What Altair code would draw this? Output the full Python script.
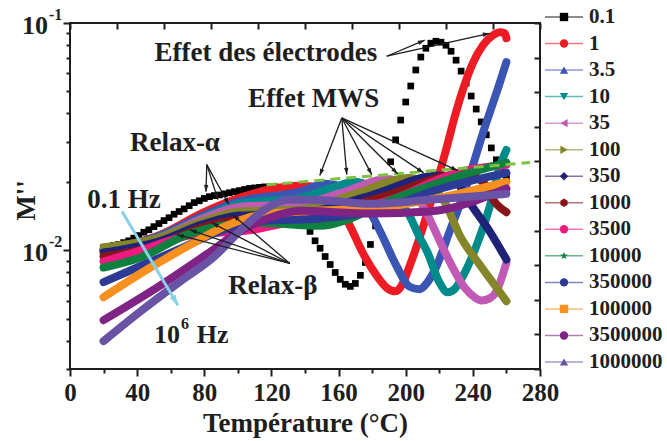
import math
import altair as alt
import pandas as pd

# ---- series definitions -------------------------------------------------
SERIES = ["0.1", "1", "3.5", "10", "35", "100", "350", "1000", "3500",
          "10000", "350000", "100000", "3500000", "1000000"]
COLORS = ["#000000", "#ED1C24", "#3A55B4", "#008B8B", "#C05AB5", "#85852A",
          "#1F2378", "#8A1519", "#EE1A7F", "#0F8040", "#2D3A96", "#F7901E",
          "#7F2385", "#6A52A5"]
HEXAGON = "M0,-1L0.87,-0.5L0.87,0.5L0,1L-0.87,0.5L-0.87,-0.5Z"
STAR = ("M0,-1L0.235,-0.324L0.951,-0.309L0.38,0.124L0.588,0.809L0,0.4"
        "L-0.588,0.809L-0.38,0.124L-0.951,-0.309L-0.235,-0.324Z")
SHAPES = ["square", "circle", "triangle-up", "triangle-down", "triangle-left",
          "triangle-right", "diamond", HEXAGON, "circle", STAR, "circle",
          "square", "circle", "triangle-up"]

# 0.1 Hz (drawn with square markers)
T_0_1 = [20, 23, 26, 29, 32, 35, 38, 41, 44, 47, 50, 53, 56, 59, 62, 65, 68,
         71, 74, 77, 80, 83, 86, 89, 92, 95, 98, 101, 104, 107, 110, 113, 116,
         119, 122, 125, 128, 131, 134, 137, 140, 143, 146, 149, 152, 155, 158,
         161, 164, 167, 170, 173, 176, 179, 182, 185, 188, 191, 194, 197, 200,
         203, 206, 209, 212, 215, 218, 221, 224, 227, 230, 233, 236, 239, 242,
         245, 248, 251, 254, 257, 260]
M_0_1 = [0.0103, 0.0104, 0.0105, 0.0106, 0.0108, 0.0110, 0.0113, 0.0116,
         0.0120, 0.0123, 0.0127, 0.0131, 0.0135, 0.0139, 0.0144, 0.0148,
         0.0152, 0.0157, 0.0162, 0.0165, 0.0169, 0.0172, 0.0174, 0.0175,
         0.0177, 0.0179, 0.0181, 0.0183, 0.0185, 0.0187, 0.0188, 0.0189,
         0.0190, 0.0190, 0.0190, 0.0188, 0.0181, 0.0170, 0.0157, 0.0145,
         0.0132, 0.0121, 0.0110, 0.0102, 0.00938, 0.00865, 0.00798, 0.00744,
         0.00708, 0.00693, 0.00714, 0.00775, 0.00883, 0.0106, 0.0128, 0.0159,
         0.0198, 0.0245, 0.0306, 0.0374, 0.0449, 0.0528, 0.0621, 0.0708,
         0.0774, 0.0815, 0.0831, 0.0823, 0.0798, 0.0751, 0.0686, 0.0614,
         0.0544, 0.0477, 0.0418, 0.0367, 0.0322, 0.0282, 0.0250, 0.0226,
         0.0209]

T_1 = [20, 54, 79, 101, 119, 137, 149, 158, 167, 174, 183, 189, 194, 198,
       202, 213, 224, 229, 234, 240, 246, 252, 256, 259, 260]
M_1 = [0.0100, 0.0117, 0.0146, 0.0170, 0.0185, 0.0192, 0.0188, 0.0167,
       0.0127, 0.00987, 0.00767, 0.00680, 0.00659, 0.00708, 0.00839, 0.0146,
       0.0276, 0.0382, 0.0507, 0.0666, 0.0798, 0.0883, 0.0910, 0.0901, 0.0857]

T_3_5 = [20, 54, 79, 101, 137, 152, 165, 172, 179, 185, 195, 202, 208, 213,
         218, 226, 236, 246, 256, 260]
M_3_5 = [0.0100, 0.0116, 0.0142, 0.0164, 0.0181, 0.0196, 0.0185, 0.0167,
         0.0146, 0.0120, 0.00839, 0.00693, 0.00673, 0.00723, 0.00839, 0.0120,
         0.0190, 0.0328, 0.0544, 0.0673]

T_10 = [20, 54, 79, 101, 137, 155, 170, 185, 194, 202, 208, 213, 220, 225,
        229, 234, 242, 250, 256, 260]
M_10 = [0.0100, 0.0115, 0.0139, 0.0160, 0.0170, 0.0187, 0.0200, 0.0181,
        0.0167, 0.0143, 0.0115, 0.00977, 0.00723, 0.00653, 0.00673, 0.00767,
        0.0104, 0.0155, 0.0233, 0.0276]

T_35 = [20, 54, 79, 101, 137, 164, 188, 202, 213, 220, 228, 235, 241, 245,
        250, 254, 260]
M_35 = [0.0100, 0.0114, 0.0138, 0.0155, 0.0160, 0.0181, 0.0206, 0.0188,
        0.0143, 0.0111, 0.00839, 0.00686, 0.00621, 0.00601, 0.00614, 0.00659,
        0.00883]

T_100 = [20, 54, 79, 101, 137, 170, 202, 214, 224, 232, 244, 254, 260]
M_100 = [0.0103, 0.0114, 0.0134, 0.0148, 0.0151, 0.0177, 0.0208, 0.0194,
         0.0159, 0.0117, 0.00865, 0.00686, 0.00596]

T_350 = [20, 54, 79, 101, 137, 179, 220, 229, 238, 250, 260]
M_350 = [0.00977, 0.0110, 0.0130, 0.0142, 0.0145, 0.0174, 0.0213, 0.0204,
         0.0162, 0.0121, 0.00910]

T_1000 = [20, 54, 79, 101, 137, 184, 235, 247, 252, 260]
M_1000 = [0.00938, 0.0106, 0.0126, 0.0136, 0.0139, 0.0170, 0.0217, 0.0196,
          0.0167, 0.0147]

T_3500 = [20, 40, 71, 109, 137, 198, 219, 238, 260]
M_3500 = [0.00891, 0.00987, 0.0116, 0.0123, 0.0136, 0.0174, 0.0204, 0.0226,
          0.0238]

T_10000 = [20, 42, 71, 111, 149, 165, 185, 208, 228, 260]
M_10000 = [0.00839, 0.00929, 0.0118, 0.0132, 0.0128, 0.0136, 0.0159, 0.0185,
           0.0208, 0.0243]

T_350000 = [20, 40, 65, 89, 113, 149, 185, 219, 260]
M_350000 = [0.00723, 0.00839, 0.0101, 0.0121, 0.0134, 0.0138, 0.0151, 0.0185,
            0.0219]

T_100000 = [20, 43, 70, 91, 113, 137, 185, 220, 260]
M_100000 = [0.00621, 0.00798, 0.0104, 0.0126, 0.0143, 0.0148, 0.0154, 0.0170,
            0.0200]

T_3500000 = [20, 52, 82, 101, 119, 137, 179, 214, 260]
M_3500000 = [0.00492, 0.00686, 0.00966, 0.0121, 0.0139, 0.0149, 0.0145,
             0.0148, 0.0187]

T_1000000 = [20, 42, 65, 86, 101, 116, 131, 155, 179, 216, 260]
M_1000000 = [0.00398, 0.00538, 0.00723, 0.00938, 0.0121, 0.0151, 0.0167,
             0.0165, 0.0160, 0.0167, 0.0177]

CURVES = [(T_1, M_1), (T_3_5, M_3_5), (T_10, M_10), (T_35, M_35),
          (T_100, M_100), (T_350, M_350), (T_1000, M_1000),
          (T_3500, M_3500), (T_10000, M_10000), (T_350000, M_350000),
          (T_100000, M_100000), (T_3500000, M_3500000),
          (T_1000000, M_1000000)]

# MWS envelope (dashed)
T_MWS = [117, 274]
M_MWS = [0.0194, 0.0243]

# ---- annotations ---------------------------------------------------------
TEXT_LABELS = ["Effet des électrodes", "Effet MWS", "Relax-α", "Relax-β", "0.1 Hz"]
TEXT_T = [116.7, 145.2, 62.5, 120.8, 32.1]
TEXT_M = [0.0737, 0.0463, 0.0297, 0.00693, 0.0167]

# arrows: start (T, M'') -> tip (T, M'')
ARROW_T0 = [188.7, 188.7,
            161.9, 161.9, 161.9, 161.9, 161.9, 161.9,
            81.5, 81.5, 81.5,
            131, 131, 131, 131]
ARROW_M0 = [0.0714, 0.0714,
            0.0382, 0.0382, 0.0382, 0.0382, 0.0382, 0.0382,
            0.0238, 0.0238, 0.0238,
            0.00874, 0.00874, 0.00874, 0.00874]
ARROW_T1 = [211.3, 250,
            148.8, 164.9, 179.8, 195.2, 210.7, 231,
            81, 88.1, 94.6,
            63.7, 71.4, 84.5, 97]
ARROW_M1 = [0.0840, 0.0901,
            0.0213, 0.0215, 0.0215, 0.0217, 0.0219, 0.0224,
            0.0181, 0.0167, 0.0159,
            0.0117, 0.0123, 0.0132, 0.0143]

FREQ_ARROW_T = [31, 64.3]
FREQ_ARROW_M = [0.0148, 0.00572]

Y_TICKS = [0.003, 0.004, 0.005, 0.006, 0.007, 0.008, 0.009,
           0.01, 0.02, 0.03, 0.04, 0.05, 0.06, 0.07, 0.08, 0.09, 0.1]
Y_MAJOR = [0.1, 0.01]
Y_MAJOR_EXP = ["-1", "-2"]
X_TICKS = [0, 20, 40, 60, 80, 100, 120, 140, 160, 180, 200, 220, 240, 260, 280]
X_TOP_TICKS = [0, 28, 56, 84, 112, 140, 168, 196, 224, 252, 280]

# ---- geometry ------------------------------------------------------------
W, H = 470, 346
Y_LO, Y_HI = 0.003, 0.1
FONT = "Liberation Serif"
INK = "#1E1E1E"

XS = alt.Scale(domain=[0, 280], nice=False, zero=False)
YS = alt.Scale(type="log", domain=[Y_LO, Y_HI], nice=False)


def to_px(t, m):
    x = t / 280 * W
    y = H * (math.log10(Y_HI) - math.log10(m)) / (math.log10(Y_HI) - math.log10(Y_LO))
    return x, y


def head_angle(t0, m0, t1, m1):
    x0, y0 = to_px(t0, m0)
    x1, y1 = to_px(t1, m1)
    return math.degrees(math.atan2(x1 - x0, -(y1 - y0))) % 360


ARROW_HEAD = "M0,0L0.55,1.7L-0.55,1.7Z"


def X(field, **kw):
    return alt.X(field, type="quantitative", scale=XS, axis=None, **kw)


def Y(field, **kw):
    return alt.Y(field, type="quantitative", scale=YS, axis=None, **kw)


layers = []

# axes (bottom / left)
axes_df = pd.DataFrame({"T": [0, 280], "M": [Y_LO, Y_HI]})
layers.append(
    alt.Chart(axes_df).mark_point(opacity=0).encode(
        x=alt.X("T:Q", scale=XS, axis=alt.Axis(
            orient="bottom", values=X_TICKS, domain=False, grid=False,
            labelExpr="datum.value % 40 == 0 ? datum.label : ''",
            tickSize={"condition": {"test": "datum.value % 40 == 0", "value": 7}, "value": 4},
            tickWidth=2, tickColor=INK, labelFont=FONT, labelFontSize=25,
            labelFontWeight="bold", labelColor=INK, labelPadding=4,
            labelFlush=False, labelOverlap=False,
            title="Température (°C)", titleFont=FONT, titleFontSize=27,
            titleFontWeight="bold", titleColor=INK, titleX=235, titleY=54,
            titleBaseline="middle", titleAlign="center")),
        y=alt.Y("M:Q", scale=YS, axis=alt.Axis(
            orient="left", values=Y_TICKS, domain=False, grid=False, labels=False,
            tickSize={"condition": {"test": "datum.value == 0.01 || datum.value == 0.1", "value": 7}, "value": 4},
            tickWidth=2, tickColor=INK,
            title="M''", titleFont=FONT, titleFontSize=27, titleFontWeight="bold",
            titleColor=INK, titleX=-44, titleY=177, titleAngle=270,
            titleAlign="center", titleBaseline="middle")),
    )
)

# axes (top / right, inward ticks)
mirror_df = pd.DataFrame({"T": [0, 280], "r": [0, 10]})
layers.append(
    alt.Chart(mirror_df).mark_point(opacity=0).encode(
        x=alt.X("T:Q", scale=XS, axis=alt.Axis(
            orient="top", values=X_TOP_TICKS, domain=False, grid=False,
            labels=False, tickSize=6, tickWidth=2, tickColor=INK, offset=-6,
            title=None)),
        y=alt.Y("r:Q", scale=alt.Scale(domain=[0, 10], nice=False, zero=False),
                axis=alt.Axis(orient="right", values=list(range(0, 11)), domain=False,
                              grid=False, labels=False, tickSize=6, tickWidth=2,
                              tickColor=INK, offset=-6, title=None)),
    )
)

# y tick labels as 10^n
ylab_df = pd.DataFrame({"M": Y_MAJOR, "exp": Y_MAJOR_EXP})
layers.append(
    alt.Chart(ylab_df).mark_text(text="10", align="right", baseline="middle", dy=3,
                                 font=FONT, fontSize=26, fontWeight="bold", color=INK)
    .encode(x=alt.value(-22), y=Y("M"))
)
layers.append(
    alt.Chart(ylab_df).mark_text(align="left", baseline="middle", dy=-8,
                                 font=FONT, fontSize=16, fontWeight="bold", color=INK)
    .encode(x=alt.value(-21), y=Y("M"), text="exp:N")
)

# 0.1 Hz markers
black_df = pd.DataFrame({"T": T_0_1, "M": M_0_1})
layers.append(
    alt.Chart(black_df).mark_square(size=45, color="#000000", opacity=1)
    .encode(x=X("T"), y=Y("M"))
)

# thick curves, drawn from lowest to highest frequency
for name, color, (ts, ms) in zip(SERIES[1:], COLORS[1:], CURVES):
    df = pd.DataFrame({"T": ts, "M": ms})
    layers.append(
        alt.Chart(df).mark_line(strokeWidth=8, interpolate="monotone",
                                strokeCap="round", strokeJoin="round", color=color)
        .encode(x=X("T"), y=Y("M"), order="T:Q")
    )

# MWS dashed envelope
mws_df = pd.DataFrame({"T": T_MWS, "M": M_MWS})
layers.append(
    alt.Chart(mws_df).mark_line(color="#7DC242", strokeWidth=3, strokeDash=[10, 6])
    .encode(x=X("T"), y=Y("M"))
)

# black annotation arrows
arrow_df = pd.DataFrame({"t0": ARROW_T0, "m0": ARROW_M0, "t1": ARROW_T1, "m1": ARROW_M1})
arrow_df["angle"] = [head_angle(a, b, c, d) for a, b, c, d in
                     zip(ARROW_T0, ARROW_M0, ARROW_T1, ARROW_M1)]
layers.append(
    alt.Chart(arrow_df).mark_rule(color=INK, strokeWidth=1.3)
    .encode(x=X("t0"), y=Y("m0"), x2="t1", y2="m1")
)
layers.append(
    alt.Chart(arrow_df).mark_point(shape=ARROW_HEAD, filled=True, size=64,
                                   color=INK, opacity=1)
    .encode(x=X("t1"), y=Y("m1"), angle=alt.Angle("angle:Q", scale=None))
)

# frequency direction arrow
freq_df = pd.DataFrame({"t0": [FREQ_ARROW_T[0]], "m0": [FREQ_ARROW_M[0]],
                        "t1": [FREQ_ARROW_T[1]], "m1": [FREQ_ARROW_M[1]]})
freq_df["angle"] = [head_angle(FREQ_ARROW_T[0], FREQ_ARROW_M[0],
                               FREQ_ARROW_T[1], FREQ_ARROW_M[1])]
layers.append(
    alt.Chart(freq_df).mark_rule(color="#86D0E8", strokeWidth=3)
    .encode(x=X("t0"), y=Y("m0"), x2="t1", y2="m1")
)
layers.append(
    alt.Chart(freq_df).mark_point(shape=ARROW_HEAD, filled=True, size=150,
                                  color="#86D0E8", opacity=1)
    .encode(x=X("t1"), y=Y("m1"), angle=alt.Angle("angle:Q", scale=None))
)

# text annotations
text_df = pd.DataFrame({"label": TEXT_LABELS, "T": TEXT_T, "M": TEXT_M})
layers.append(
    alt.Chart(text_df).mark_text(align="center", baseline="middle", font=FONT,
                                 fontSize=27, fontWeight="bold", color=INK)
    .encode(x=X("T"), y=Y("M"), text="label:N")
)
hz_df = pd.DataFrame({"label": ["10", "6", "Hz"], "T": [65.5, 66.1, 75.5],
                      "M": [0.00422, 0.00472, 0.00422], "size": [26, 16, 26],
                      "align": ["right", "left", "left"]})
for _, row in hz_df.iterrows():
    layers.append(
        alt.Chart(hz_df[hz_df["label"] == row["label"]])
        .mark_text(align=row["align"], baseline="middle", font=FONT,
                   fontSize=int(row["size"]), fontWeight="bold", color=INK)
        .encode(x=X("T"), y=Y("M"), text="label:N")
    )

# legend
leg_df = pd.DataFrame({"label": SERIES})
LEG_Y = alt.Y("label:N", scale=alt.Scale(type="point", domain=SERIES,
                                           range=[-6, 339], padding=0), axis=None)
LEG_C = alt.Color("label:N", scale=alt.Scale(domain=SERIES, range=COLORS), legend=None)
LEG_S = alt.Shape("label:N", scale=alt.Scale(domain=SERIES, range=SHAPES), legend=None)
layers.append(
    alt.Chart(leg_df).mark_rule(strokeWidth=1.5, opacity=0.6)
    .encode(x=alt.value(475), x2=alt.value(513), y=LEG_Y, color=LEG_C)
)
layers.append(
    alt.Chart(leg_df).mark_point(filled=True, size=70, opacity=1)
    .encode(x=alt.value(494), y=LEG_Y, color=LEG_C, shape=LEG_S)
)
layers.append(
    alt.Chart(leg_df).mark_text(align="left", baseline="middle", font=FONT,
                                fontSize=21, fontWeight="bold", color=INK)
    .encode(x=alt.value(519), y=LEG_Y, text="label:N")
)

chart = (
    alt.layer(*layers)
    .resolve_scale(y="independent")
    .resolve_axis(x="independent", y="independent")
    .properties(width=W, height=H, autosize=alt.AutoSizeParams(type="none"),
                padding={"left": 70, "top": 23, "right": 127, "bottom": 72},
                background="white")
    .configure_view(stroke=INK, strokeWidth=2)
)

chart.save("out.html", embed_options={"renderer": "svg", "actions": False})
